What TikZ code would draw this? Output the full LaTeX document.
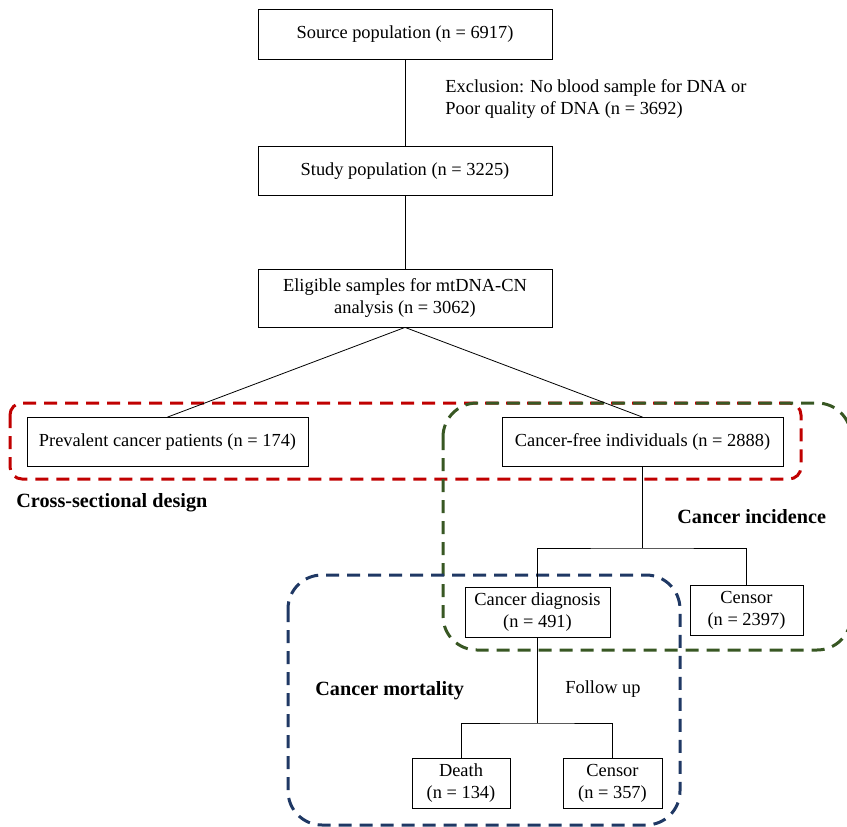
\documentclass[tikz,border=0pt]{standalone}
\usepackage{fontspec}
\setmainfont{Liberation Serif}
\usetikzlibrary{positioning}

\definecolor{crossred}{RGB}{192,0,0}
\definecolor{incgreen}{RGB}{56,87,35}
\definecolor{mortblue}{RGB}{31,56,100}

\begin{document}
\begin{tikzpicture}[%
  x = 1pt, y = -1pt,
  line width = 0.8pt,
  stage/.style =  {rectangle, draw, align=center,
                   inner sep = 2pt, minimum height = 50pt,
                   font=\fontsize{18.4}{22}\selectfont},
  note/.style =   {align=left, inner sep = 0pt,
                   font=\fontsize{18.4}{22}\selectfont},
  design/.style = {inner sep = 0pt,
                   font=\fontsize{20.2}{24}\selectfont\bfseries},
  group/.style =  {dash pattern=on 13pt off 8pt, line width=3pt,
                   rounded corners=34pt}
]
  \useasboundingbox (0,0) rectangle (847,827);

  % study groups
  \draw[group, crossred, rounded corners=12pt] (10,403) rectangle (801,479);
  \draw[group, incgreen] (443,403) rectangle (851,650);
  \draw[group, mortblue] (288,575) rectangle (680,825);

  % boxes
  \node[stage, minimum width=294pt] (src) at (405,34)
       {Source population (n = 6917)};
  \node[stage, minimum width=294pt, minimum height=49pt] (study) at (405,171)
       {Study population (n = 3225)};
  \node[stage, minimum width=294pt, minimum height=58pt] (elig) at (405,298)
       {Eligible samples for mtDNA-CN\\ analysis (n = 3062)};
  \node[stage, minimum width=281pt, minimum height=49pt] (prev) at (167.5,442)
       {Prevalent cancer patients (n = 174)};
  \node[stage, minimum width=281pt, minimum height=49pt] (free) at (642.5,442)
       {Cancer-free individuals (n = 2888)};
  \node[stage, minimum width=145pt] (diag) at (537.5,612.5)
       {Cancer diagnosis\\ (n = 491)};
  \node[stage, minimum width=113pt] (cens) at (746.5,610.5)
       {Censor\\ (n = 2397)};
  \node[stage, minimum width=98pt] (death) at (461,783.5)
       {Death\\ (n = 134)};
  \node[stage, minimum width=99pt] (censb) at (612.5,783.5)
       {Censor\\ (n = 357)};

  % annotations
  \node[note, anchor=west] (excl) at (445,99)
       {Exclusion: No blood sample for DNA or\\ Poor quality of DNA (n = 3692)};
  \node[note, anchor=west] (follow) at (565,689) {Follow up};
  \node[design, anchor=west] (cross) at (16,503) {Cross-sectional design};
  \node[design, anchor=west] (incid) at (677,517) {Cancer incidence};
  \node[design, anchor=west] (mort) at (315,691) {Cancer mortality};

  % connections
  \draw (src) -- (study);
  \draw (study) -- (elig);
  \draw (elig.south) -- (prev.north);
  \draw (elig.south) -- (free.north);

  \coordinate (fork1) at (642.5,548);
  \draw (free.south) -- (fork1);
  \draw (diag.north) |- (fork1) -| (cens.north);

  \coordinate (fork2) at (537.5,723);
  \draw (diag.south) -- (fork2);
  \draw (death.north) |- (fork2) -| (censb.north);

\end{tikzpicture}
\end{document}
